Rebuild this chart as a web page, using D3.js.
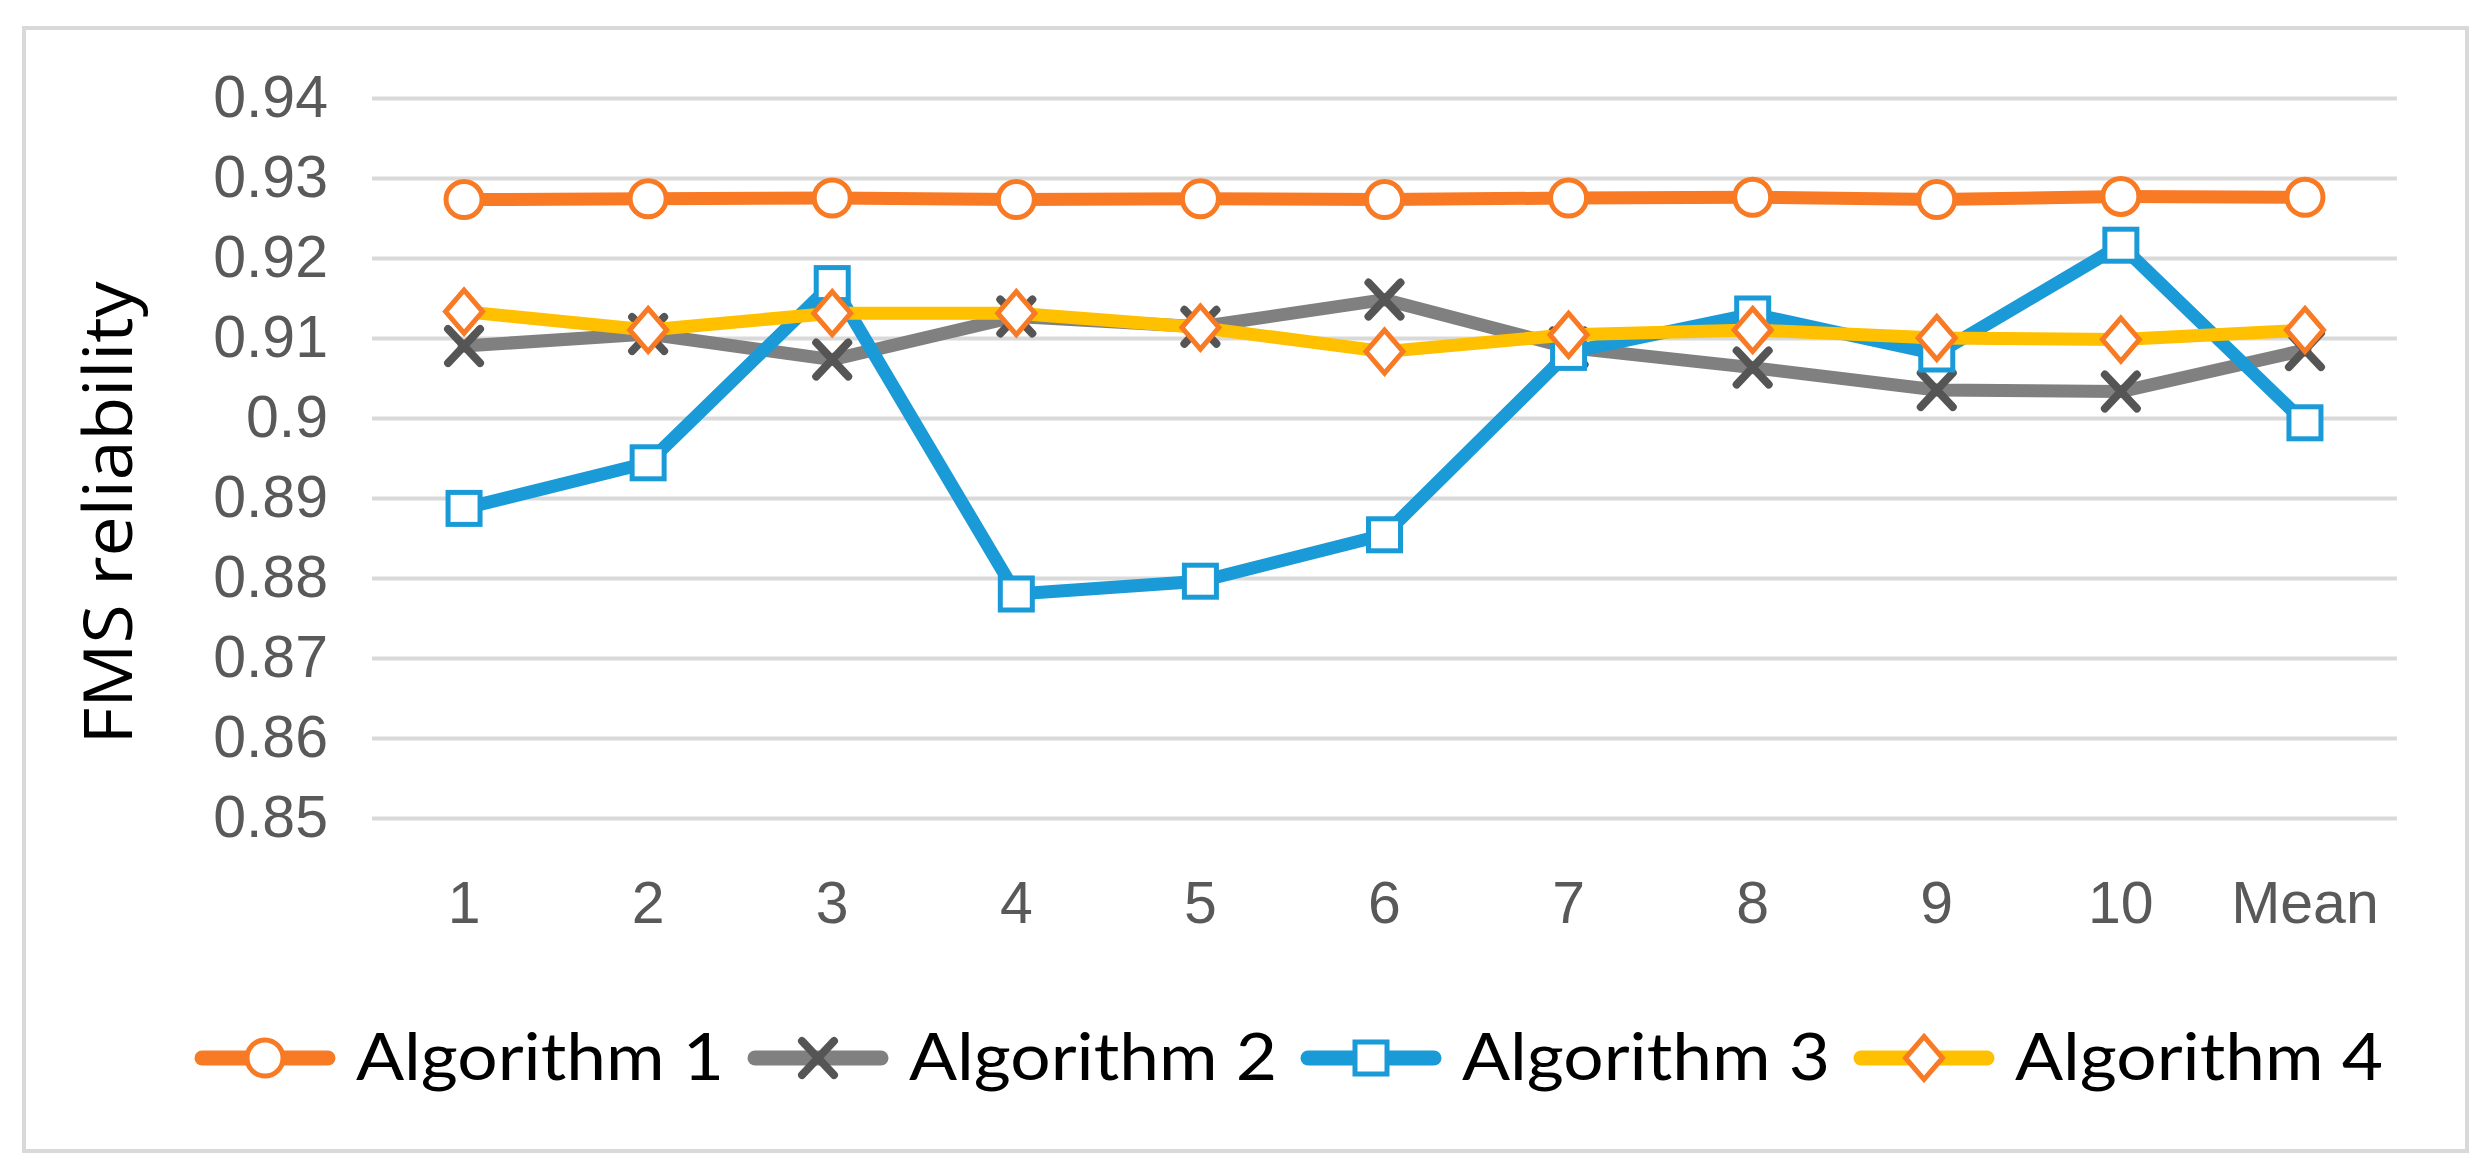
<!DOCTYPE html>
<html>
<head>
<meta charset="utf-8">
<script src="https://cdn.jsdelivr.net/npm/d3@7"></script>
<style>
  html, body { margin: 0; padding: 0; background: #fff; }
  svg { display: block; }
</style>
</head>
<body>
<svg id="chart" width="2484" height="1173"></svg>
<script>
// ---------- DATA ----------
const categories = ["1", "2", "3", "4", "5", "6", "7", "8", "9", "10", "Mean"];
const seriesNames = ["Algorithm 1", "Algorithm 2", "Algorithm 3", "Algorithm 4"];
const algorithm1 = [0.9273, 0.9274, 0.9275, 0.9273, 0.9274, 0.9273, 0.9275, 0.9276, 0.9273, 0.9277, 0.9276];
const algorithm2 = [0.9090, 0.9105, 0.9073, 0.9127, 0.9114, 0.9148, 0.9088, 0.9063, 0.9035, 0.9033, 0.9085];
const algorithm3 = [0.8887, 0.8944, 0.9168, 0.8780, 0.8796, 0.8854, 0.9082, 0.9130, 0.9080, 0.9216, 0.8994];
const algorithm4 = [0.9133, 0.9110, 0.9131, 0.9131, 0.9113, 0.9083, 0.9104, 0.9110, 0.9100, 0.9098, 0.9110];
const yTickValues = [0.85, 0.86, 0.87, 0.88, 0.89, 0.90, 0.91, 0.92, 0.93, 0.94];
const yTickLabels = ["0.85", "0.86", "0.87", "0.88", "0.89", "0.9", "0.91", "0.92", "0.93", "0.94"];
const yAxisTitle = "FMS reliability";

// ---------- STYLE / LAYOUT ----------
const W = 2484, H = 1173;
const plot = { left: 372, right: 2397, top: 98, bottom: 818 };
const styles = [
  { line: "#F97A24", marker: "circle",  stroke: "#F97A24" },
  { line: "#808080", marker: "x",       stroke: "#555555" },
  { line: "#1B9AD8", marker: "square",  stroke: "#1B9AD8" },
  { line: "#FFC000", marker: "diamond", stroke: "#F97A24" }
];
const seriesValues = [algorithm1, algorithm2, algorithm3, algorithm4];

const svg = d3.select("#chart");

// frame
svg.append("rect")
  .attr("x", 24).attr("y", 28).attr("width", 2443).attr("height", 1123)
  .attr("fill", "#fff").attr("stroke", "#D9D9D9").attr("stroke-width", 4);

const x = d3.scaleBand().domain(categories).range([plot.left, plot.right]).padding(0);
const cx = c => x(c) + x.bandwidth() / 2;
const y = d3.scaleLinear().domain([0.85, 0.94]).range([plot.bottom, plot.top]);

// gridlines + y labels via axis
const yAxis = d3.axisLeft(y)
  .tickValues(yTickValues)
  .tickFormat((d, i) => yTickLabels[i])
  .tickSize(-(plot.right - plot.left))
  .tickPadding(44);
const gy = svg.append("g").attr("transform", `translate(${plot.left},0)`).call(yAxis);
gy.select(".domain").remove();
gy.selectAll(".tick line").attr("stroke", "#D9D9D9").attr("stroke-width", 4);
gy.selectAll(".tick text")
  .attr("fill", "#595959")
  .style("font-family", "'Liberation Sans', Arial, sans-serif")
  .style("font-size", "59px");

// x labels via axis
const xAxis = d3.axisBottom(x).tickSize(0).tickPadding(0);
const gx = svg.append("g").attr("transform", `translate(0,${plot.bottom})`).call(xAxis);
gx.select(".domain").remove();
gx.selectAll(".tick text")
  .attr("fill", "#595959")
  .attr("dy", null)
  .attr("y", 105)
  .style("font-family", "'Liberation Sans', Arial, sans-serif")
  .style("font-size", "59px");

// y axis title
svg.append("text")
  .attr("transform", `translate(132, 513) rotate(-90)`)
  .attr("text-anchor", "middle")
  .attr("fill", "#000")
  .attr("textLength", 463)
  .attr("lengthAdjust", "spacingAndGlyphs")
  .style("font-family", "'Open Sans', sans-serif")
  .style("font-size", "67px")
  .text(yAxisTitle);

// marker drawing
function drawMarker(g, type, st) {
  if (type === "circle") {
    g.append("circle").attr("r", 18).attr("fill", "#fff")
      .attr("stroke", st.stroke).attr("stroke-width", 5);
  } else if (type === "square") {
    g.append("rect").attr("x", -16).attr("y", -16).attr("width", 32).attr("height", 32)
      .attr("fill", "#fff").attr("stroke", st.stroke).attr("stroke-width", 5);
  } else if (type === "diamond") {
    g.append("path").attr("d", "M0,-21.5 L18.5,0 L0,21.5 L-18.5,0 Z")
      .attr("fill", "#fff").attr("stroke", st.stroke).attr("stroke-width", 5)
      .attr("stroke-linejoin", "miter");
  } else if (type === "x") {
    g.append("path").attr("d", "M-16,-17 L16,17 M-16,17 L16,-17")
      .attr("fill", "none").attr("stroke", st.stroke).attr("stroke-width", 8)
      .attr("stroke-linecap", "round");
  }
}

// series
const line = d3.line().x((d, i) => cx(categories[i])).y(d => y(d));
seriesValues.forEach((vals, si) => {
  const st = styles[si];
  const g = svg.append("g");
  g.append("path").datum(vals).attr("d", line)
    .attr("fill", "none").attr("stroke", st.line).attr("stroke-width", 13)
    .attr("stroke-linejoin", "round").attr("stroke-linecap", "round");
  vals.forEach((v, i) => {
    const mg = g.append("g").attr("transform", `translate(${cx(categories[i])},${y(v)})`);
    drawMarker(mg, st.marker, st);
  });
});

// legend
const legendY = 1058;
const legendFont = "'Lato', 'Carlito', 'Calibri', sans-serif";
let lx = 195;
seriesNames.forEach((name, si) => {
  const st = styles[si];
  const g = svg.append("g");
  g.append("line").attr("x1", lx + 7).attr("x2", lx + 133).attr("y1", legendY).attr("y2", legendY)
    .attr("stroke", st.line).attr("stroke-width", 15).attr("stroke-linecap", "round");
  const mg = g.append("g").attr("transform", `translate(${lx + 70},${legendY})`);
  drawMarker(mg, st.marker, st);
  g.append("text")
    .attr("x", lx + 161).attr("y", legendY + 22)
    .attr("fill", "#000")
    .style("font-family", legendFont)
    .style("font-size", "66px")
    .attr("textLength", 368)
    .attr("lengthAdjust", "spacingAndGlyphs")
    .text(name);
  lx = lx + 161 + 368 + 24;
});
</script>
</body>
</html>
